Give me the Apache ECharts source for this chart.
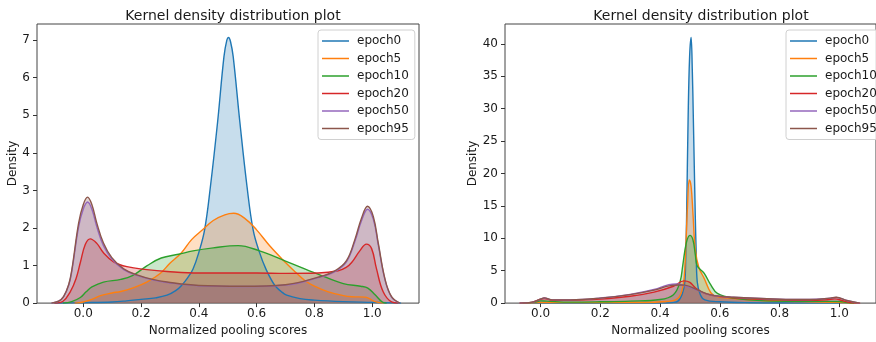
<!DOCTYPE html>
<html>
<head>
<meta charset="utf-8">
<script src="https://cdn.jsdelivr.net/npm/echarts@6/dist/echarts.min.js"></script>
<style>
  html, body { margin: 0; padding: 0; background: #fff; }
  #chart { width: 876px; height: 342px; }
</style>
</head>
<body>
<div id="chart"></div>
<script>
const seriesNames = ['epoch0', 'epoch5', 'epoch10', 'epoch20', 'epoch50', 'epoch95']
const colors = ['#1f77b4', '#ff7f0e', '#2ca02c', '#d62728', '#9467bd', '#8c564b']
const xTicks = [0, 0.2, 0.4, 0.6, 0.8, 1.0]
const leftYTicks = [0, 1, 2, 3, 4, 5, 6, 7]
const rightYTicks = [0, 5, 10, 15, 20, 25, 30, 35, 40]

// left panel: [score, density]
const leftEpoch0 = [[-0.1,0],[-0.05,0.005],[0,0.01],[0.1,0.03],[0.15,0.06],[0.2,0.1],[0.25,0.14],[0.29,0.21],[0.32,0.33],[0.34,0.47],[0.36,0.66],[0.38,0.91],[0.40,1.35],[0.42,1.95],[0.44,3.09],[0.465,4.82],[0.487,6.56],[0.497,7.0],[0.503,7.07],[0.51,6.95],[0.519,6.56],[0.542,4.82],[0.567,3.09],[0.588,1.95],[0.61,1.35],[0.632,0.91],[0.663,0.47],[0.685,0.31],[0.704,0.21],[0.75,0.12],[0.8,0.08],[0.9,0.04],[1.0,0.02],[1.05,0.01],[1.1,0]]
const leftEpoch5 = [[-0.03,0],[0,0.03],[0.03,0.1],[0.06,0.2],[0.1,0.27],[0.13,0.31],[0.17,0.4],[0.22,0.56],[0.265,0.78],[0.3,1.06],[0.34,1.34],[0.375,1.69],[0.413,1.95],[0.45,2.2],[0.49,2.35],[0.521,2.39],[0.56,2.25],[0.6,1.95],[0.646,1.52],[0.7,1.08],[0.735,0.82],[0.767,0.6],[0.8,0.45],[0.848,0.3],[0.9,0.2],[0.93,0.17],[0.975,0.16],[0.99,0.12],[1.01,0.04],[1.04,0]]
const leftEpoch10 = [[-0.07,0],[-0.04,0.04],[-0.01,0.15],[0.01,0.3],[0.03,0.43],[0.07,0.56],[0.13,0.63],[0.17,0.73],[0.22,0.99],[0.27,1.2],[0.33,1.3],[0.38,1.39],[0.45,1.47],[0.536,1.53],[0.61,1.39],[0.7,1.12],[0.81,0.78],[0.9,0.52],[0.96,0.45],[0.985,0.4],[1.01,0.22],[1.035,0.03],[1.05,0]]
const leftEpoch20 = [[-0.1,0],[-0.07,0.05],[-0.045,0.3],[-0.025,0.65],[-0.01,1.08],[0.007,1.56],[0.024,1.71],[0.047,1.59],[0.07,1.34],[0.105,1.1],[0.151,0.97],[0.22,0.89],[0.29,0.84],[0.4,0.8],[0.5,0.8],[0.6,0.8],[0.7,0.79],[0.813,0.8],[0.882,0.86],[0.91,0.95],[0.929,1.08],[0.957,1.39],[0.98,1.57],[0.998,1.45],[1.015,0.91],[1.038,0.3],[1.067,0.03],[1.09,0]]
const leftEpoch50 = [[-0.11,0],[-0.085,0.05],[-0.068,0.17],[-0.05,0.48],[-0.039,0.87],[-0.016,2.03],[0,2.5],[0.015,2.69],[0.03,2.5],[0.047,2.03],[0.07,1.53],[0.099,1.17],[0.14,0.89],[0.186,0.74],[0.24,0.62],[0.29,0.55],[0.4,0.46],[0.55,0.44],[0.7,0.48],[0.813,0.68],[0.871,0.84],[0.911,1.1],[0.94,1.64],[0.963,2.19],[0.984,2.5],[1.004,2.23],[1.021,1.55],[1.044,0.63],[1.067,0.16],[1.096,0]]
const leftEpoch95 = [[-0.11,0],[-0.085,0.05],[-0.068,0.17],[-0.05,0.5],[-0.039,0.91],[-0.016,2.13],[0,2.62],[0.015,2.82],[0.03,2.62],[0.047,2.13],[0.07,1.6],[0.099,1.21],[0.14,0.91],[0.186,0.75],[0.24,0.63],[0.29,0.56],[0.4,0.47],[0.55,0.45],[0.7,0.49],[0.813,0.69],[0.871,0.86],[0.911,1.13],[0.94,1.69],[0.963,2.26],[0.984,2.58],[1.004,2.3],[1.021,1.6],[1.044,0.65],[1.067,0.17],[1.096,0]]

// right panel
const rightEpoch0 = [[-0.05,0],[0.3,0],[0.42,0.02],[0.44,0.08],[0.46,0.3],[0.475,1.5],[0.483,3.3],[0.486,7],[0.489,13.4],[0.494,28.5],[0.499,38],[0.504,41.0],[0.508,36],[0.5115,28.5],[0.518,13.4],[0.521,8],[0.5245,3.3],[0.535,1.3],[0.55,0.5],[0.6,0.2],[0.7,0.06],[0.85,0.02],[1.0,0]]
const rightEpoch5 = [[-0.06,0],[0,0.08],[0.2,0.08],[0.35,0.1],[0.42,0.25],[0.45,0.45],[0.465,1.0],[0.475,2.2],[0.481,4],[0.486,8.3],[0.492,15],[0.498,19.0],[0.504,18],[0.51,14],[0.518,8.3],[0.53,5.5],[0.548,3.8],[0.57,1.6],[0.59,1.0],[0.65,0.7],[0.7,0.5],[0.8,0.3],[0.9,0.2],[1.0,0.12],[1.05,0]]
const rightEpoch10 = [[-0.06,0],[-0.02,0.15],[0,0.35],[0.02,0.3],[0.1,0.15],[0.2,0.2],[0.3,0.3],[0.4,0.55],[0.445,1.3],[0.467,3.3],[0.476,5.8],[0.488,9.3],[0.5,10.45],[0.51,9.8],[0.518,7.5],[0.524,5.8],[0.535,5.2],[0.548,4.6],[0.57,2.8],[0.592,1.5],[0.646,0.76],[0.754,0.35],[0.9,0.27],[1.0,0.25],[1.03,0.03],[1.05,0]]
const rightEpoch20 = [[-0.07,0],[-0.03,0.12],[0,0.6],[0.012,0.72],[0.04,0.45],[0.1,0.45],[0.2,0.62],[0.3,1.05],[0.38,1.7],[0.445,2.6],[0.48,3.43],[0.5,3.2],[0.52,2.3],[0.55,1.5],[0.6,1.0],[0.7,0.65],[0.8,0.5],[0.9,0.42],[0.96,0.52],[0.985,0.65],[1.01,0.4],[1.04,0.05],[1.07,0]]
const rightEpoch50 = [[-0.07,0],[-0.03,0.12],[0,0.6],[0.012,0.78],[0.04,0.5],[0.1,0.5],[0.2,0.78],[0.3,1.35],[0.38,2.1],[0.43,2.85],[0.455,2.95],[0.483,2.7],[0.527,1.95],[0.57,1.25],[0.646,0.9],[0.8,0.6],[0.9,0.55],[0.97,0.76],[0.99,0.88],[1.025,0.4],[1.068,0]]
const rightEpoch95 = [[-0.07,0],[-0.03,0.12],[0,0.6],[0.012,0.8],[0.04,0.5],[0.1,0.5],[0.2,0.76],[0.3,1.3],[0.38,2.0],[0.43,2.65],[0.465,2.8],[0.483,2.77],[0.527,2.0],[0.57,1.26],[0.646,0.9],[0.8,0.6],[0.9,0.55],[0.97,0.76],[0.99,0.9],[1.025,0.4],[1.068,0]]

const leftData = [leftEpoch0, leftEpoch5, leftEpoch10, leftEpoch20, leftEpoch50, leftEpoch95]
const rightData = [rightEpoch0, rightEpoch5, rightEpoch10, rightEpoch20, rightEpoch50, rightEpoch95]

const font = 'DejaVu Sans'
const textColor = '#1a1a1a'

function xAxisFor(gridIndex, min, max) {
  return {
    type: 'value', gridIndex, min, max,
    name: 'Normalized pooling scores', nameLocation: 'middle', nameGap: 20,
    nameTextStyle: { fontFamily: font, fontSize: 12, color: textColor },
    axisLine: { show: false, onZero: false },
    splitLine: { show: false },
    axisTick: { show: true, length: 4, lineStyle: { color: '#333' }, customValues: xTicks },
    axisLabel: { margin: 5, fontFamily: font, fontSize: 12, color: textColor,
      customValues: xTicks, formatter: v => v.toFixed(1) }
  }
}

function yAxisFor(gridIndex, max, ticks, nameGap) {
  return {
    type: 'value', gridIndex, min: 0, max,
    name: 'Density', nameLocation: 'middle', nameGap,
    nameTextStyle: { fontFamily: font, fontSize: 12, color: textColor },
    axisLine: { show: false, onZero: false },
    splitLine: { show: false },
    axisTick: { show: true, length: 4, lineStyle: { color: '#333' }, customValues: ticks },
    axisLabel: { margin: 7, fontFamily: font, fontSize: 12, color: textColor,
      customValues: ticks, formatter: v => String(v) }
  }
}

function legendFor(left) {
  return {
    orient: 'vertical', left, top: 30,
    data: seriesNames.map((name, i) => ({ name, itemStyle: { color: colors[i] } })),
    selectedMode: false,
    icon: 'rect',
    itemWidth: 27, itemHeight: 1.5, itemGap: 3.5,
    padding: [4, 6, 4, 4],
    backgroundColor: 'rgba(255,255,255,0.8)',
    borderColor: '#d0d0d0', borderWidth: 1, borderRadius: 3,
    textStyle: { fontFamily: font, fontSize: 12, color: textColor, lineHeight: 14, padding: [0, 0, 0, 3] }
  }
}

const series = []
;[leftData, rightData].forEach((panel, p) => {
  panel.forEach((data, i) => {
    series.push({
      name: seriesNames[i], type: 'line',
      xAxisIndex: p, yAxisIndex: p,
      data, symbol: 'none', smooth: 0.4,
      lineStyle: { color: colors[i], width: 1.4 },
      itemStyle: { color: colors[i] },
      areaStyle: { color: colors[i], opacity: 0.25 }
    })
  })
})

const chart = echarts.init(document.getElementById('chart'), null, { renderer: 'canvas' })
chart.setOption({
  animation: false,
  backgroundColor: '#fff',
  title: [
    { text: 'Kernel density distribution plot', left: 228, top: 4, textAlign: 'center',
      textStyle: { fontFamily: font, fontSize: 14, fontWeight: 'normal', color: textColor } },
    { text: 'Kernel density distribution plot', left: 696, top: 4, textAlign: 'center',
      textStyle: { fontFamily: font, fontSize: 14, fontWeight: 'normal', color: textColor } }
  ],
  legend: [legendFor(318), legendFor(786)],
  grid: [
    { left: 37, top: 24, width: 382, height: 284, show: true, borderColor: '#444', borderWidth: 1, backgroundColor: 'transparent' },
    { left: 505, top: 24, width: 382, height: 284, show: true, borderColor: '#444', borderWidth: 1, backgroundColor: 'transparent' }
  ],
  xAxis: [xAxisFor(0, -0.16, 1.162), xAxisFor(1, -0.119, 1.123)],
  yAxis: [yAxisFor(0, 7.43, leftYTicks, 17), yAxisFor(1, 43.07, rightYTicks, 25)],
  series
})
</script>
</body>
</html>
